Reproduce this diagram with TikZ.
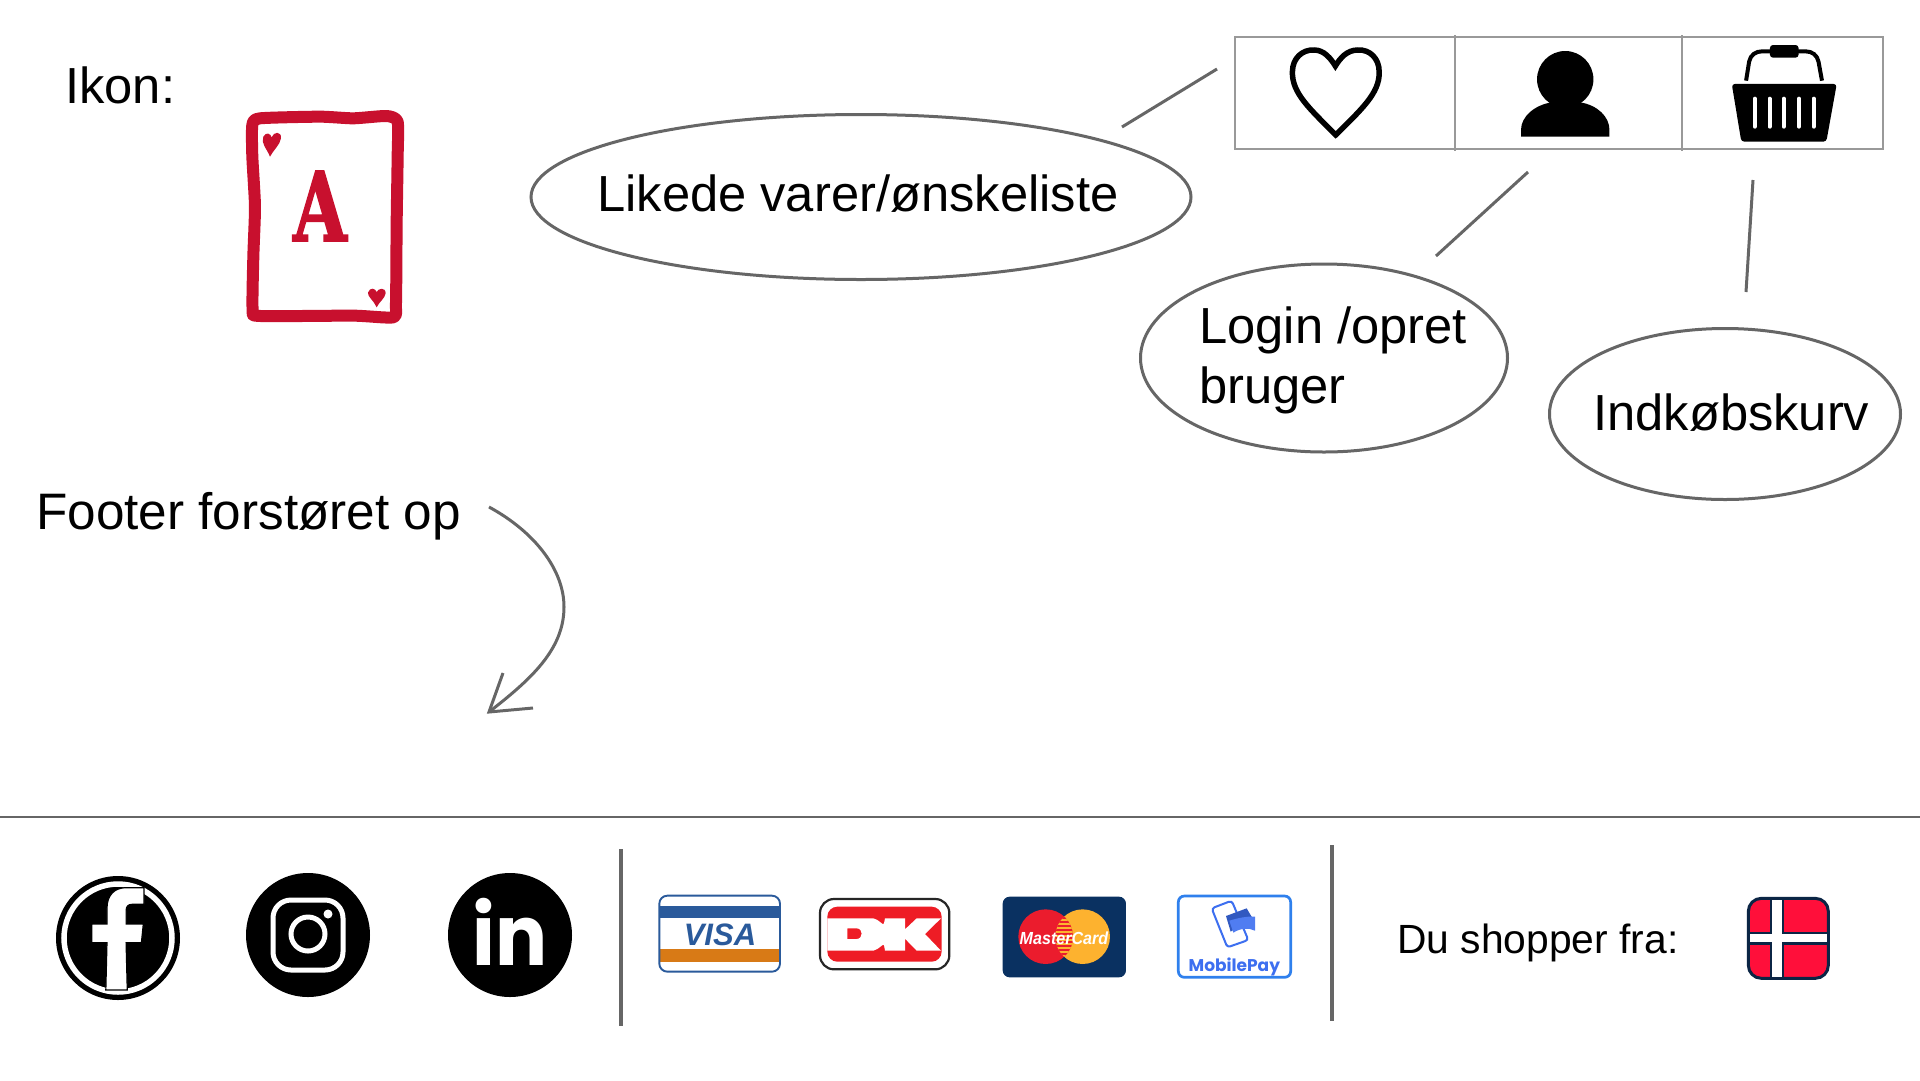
\documentclass[tikz,border=0pt]{standalone}
\usepackage{fontspec}
\setmainfont{Liberation Sans}
\newfontfamily\popp{Poppins}
\newfontfamily\slab{DejaVu Serif Bold}[FakeBold=2]
\usetikzlibrary{shapes.geometric}
\definecolor{linegray}{HTML}{666666}
\definecolor{cellgray}{HTML}{999999}
\definecolor{cardred}{HTML}{C8102E}
\definecolor{visablue}{HTML}{2A5A9B}
\definecolor{visaorange}{HTML}{D87A16}
\definecolor{dkred}{HTML}{EE1C25}
\definecolor{mcnavy}{HTML}{0A3161}
\definecolor{mcred}{HTML}{EB1C2D}
\definecolor{mcorange}{HTML}{FDB22F}
\definecolor{mpblue}{HTML}{2F80ED}
\definecolor{mpdeep}{HTML}{3D6FF0}
\definecolor{flagred}{HTML}{FF0F3A}
\definecolor{flagnavy}{HTML}{0B2545}
\tikzset{
  bubble/.style={ellipse,draw=linegray,line width=3pt,fill=none,inner sep=0pt},
  leader/.style={draw=linegray,line width=3pt},
  rulegray/.style={draw=linegray,line width=2.8pt},
  sepline/.style={draw=linegray,line width=3.8pt},
  big/.style={anchor=base west,inner sep=0pt,font=\fontsize{50.7}{60}\selectfont,text=black},
  mid/.style={anchor=base west,inner sep=0pt,font=\fontsize{40.8}{48}\selectfont,text=black},
  cell/.style={draw=cellgray,line width=1.6pt},
}
\begin{document}
\begin{tikzpicture}[x=1pt,y=-1pt]
\useasboundingbox (0,0) rectangle (1920,1080);
\fill[white] (0,0) rectangle (1920,1080);

% texts
\node[big] (ikon) at (65,103) {Ikon:};
\node[big,font=\fontsize{51.3}{60}\selectfont] (footertxt) at (36,529) {Footer forstøret op};

% card icon
\begin{scope}[shift={(220,90)},xscale=0.3333,yscale=0.3333]
  \draw[cardred,line width=12pt,line join=round] plot[smooth cycle,tension=.35] coordinates
   {(97,105) (120,85) (300,80) (400,85) (500,78) (533,95) (533,200) (530,400) (528,640) (520,682) (400,677) (120,678) (98,660) (100,500) (105,350) (97,200)};
  \fill[cardred] (150,200) .. controls (140,175) and (122,160) .. (130,140) .. controls (138,125) and (152,130) .. (155,142) .. controls (160,125) and (185,122) .. (183,145) .. controls (180,165) and (160,180) .. (150,200) -- cycle;
  \fill[cardred] (470,652) .. controls (462,632) and (442,620) .. (444,608) .. controls (450,590) and (466,595) .. (470,606) .. controls (474,595) and (497,590) .. (497,610) .. controls (495,625) and (478,635) .. (470,652) -- cycle;
\end{scope}
\node[inner sep=0pt,xscale=.72,text=cardred,font=\slab\fontsize{96}{96}\selectfont,anchor=base] (cardA) at (320,241) {A};

% bubbles
\node[bubble,minimum width=660pt,minimum height=165pt] (likeb) at (861,197) {};
\node[bubble,minimum width=367pt,minimum height=188pt] (loginb) at (1324,358) {};
\node[bubble,minimum width=351pt,minimum height=171pt] (basketb) at (1725,414) {};
\node[big] (liketxt) at (597,211) {Likede varer/ønskeliste};
\node[big] (logintxt1) at (1199,343) {Login /opret};
\node[big] (logintxt2) at (1199,403) {bruger};
\node[big] (baskettxt) at (1593,430) {Indkøbskurv};

% icon table
\draw[cell] (1235,37) rectangle (1883,149);
\draw[cell] (1455,35) -- (1455,151);
\draw[cell] (1682,35) -- (1682,151);

\begin{scope}[shift={(1220,20)},xscale=0.4337,yscale=0.3333]
  % heart
  \draw[black,line width=5.5pt,miter limit=6] (267,345) .. controls (210,270) and (165,220) .. (167,155) .. controls (167,115) and (190,88) .. (217,90) .. controls (240,90) and (255,115) .. (266,138) .. controls (277,115) and (292,90) .. (318,90) .. controls (345,88) and (367,115) .. (367,155) .. controls (369,220) and (324,270) .. cycle;
  % person
  \fill[black] (796,178) ellipse [x radius=65,y radius=85];
  \fill[black] (694,350) -- (694,330) .. controls (694,290) and (725,255) .. (765,247) -- (830,247) .. controls (870,255) and (898,290) .. (898,330) -- (898,350) -- cycle;
  % basket
  \draw[black,line width=4pt] (1213,182) -- (1220,125) .. controls (1223,105) and (1235,94) .. (1250,94) -- (1350,94) .. controls (1365,94) and (1377,105) .. (1380,125) -- (1388,182);
  \fill[black,rounded corners=3pt] (1268,75) rectangle (1334,113);
  \fill[black,rounded corners=3pt] (1180,192) -- (1422,192) -- (1398,365) -- (1202,365) -- cycle;
  \foreach \sx in {1233,1267,1300,1335,1369}
    \draw[white,line width=4pt,line cap=round] (\sx,236) -- (\sx,320);
\end{scope}

% connectors
\coordinate (l1a) at (1217,69); \coordinate (l1b) at (1122,127);
\coordinate (l2a) at (1528,172); \coordinate (l2b) at (1436,256);
\coordinate (l3a) at (1753,180); \coordinate (l3b) at (1746,292);
\draw[leader] (l1a) -- (l1b);
\draw[leader] (l2a) -- (l2b);
\draw[leader] (l3a) -- (l3b);

% curved arrow
\coordinate (cs) at (489,507); \coordinate (cm) at (564,607); \coordinate (ce) at (489,712);
\coordinate (h1) at (503,673); \coordinate (h2) at (533,708);
\draw[leader] (cs) .. controls (535,532) and (564,570) .. (cm) .. controls (564,650) and (530,680) .. (ce);
\draw[leader,line join=miter] (h1) -- (ce) -- (h2);

% rules
\coordinate (ru1) at (0,817); \coordinate (ru2) at (1920,817);
\draw[rulegray] (ru1) -- (ru2);
\coordinate (s1a) at (621,849); \coordinate (s1b) at (621,1026);
\coordinate (s2a) at (1332,845); \coordinate (s2b) at (1332,1021);
\draw[sepline] (s1a) -- (s1b);
\draw[sepline] (s2a) -- (s2b);

% facebook
\fill[black] (118,938) circle [radius=62];
\draw[white,line width=5.5pt] (118,938) circle [radius=54];
\begin{scope}[shift={(40,850)},xscale=0.3827,yscale=0.3333]
  \draw[black,line width=1.2pt,fill=white] (272,113) -- (272,163) -- (240,163) .. controls (230,163) and (225,170) .. (225,182) -- (225,222) -- (270,222) -- (265,278) -- (225,278) -- (228,420) -- (172,420) -- (175,278) -- (135,278) -- (135,222) -- (175,222) -- (175,175) .. controls (175,135) and (195,113) .. (225,113) -- cycle;
\end{scope}
% instagram
\fill[black] (308,935) circle [radius=62];
\draw[white,line width=5pt,rounded corners=18pt] (273,900) rectangle (343,970);
\draw[white,line width=5pt] (308,934) circle [radius=17];
\fill[white] (328,914) circle [radius=4.5];
% linkedin
\fill[black] (510,935) circle [radius=62];
\node[anchor=base,inner sep=0pt,xscale=.92,text=white,font=\popp\bfseries\fontsize{84}{84}\selectfont] (intxt) at (510,965) {in};

% visa
\begin{scope}[shift={(640,880)},scale=0.3333]
  \fill[visablue] (61,78) rectangle (417,115);
  \fill[visaorange] (61,208) rectangle (417,245);
  \draw[visablue,line width=1.9pt,rounded corners=8pt] (58,47) rectangle (420,275);
  \node[text=visablue,inner sep=0pt,anchor=base,font=\bfseries\itshape\fontsize{31}{31}\selectfont] (visatxt) at (240,195) {VISA};
\end{scope}
% dankort
\begin{scope}[shift={(810,890)},scale=0.3333]
  \draw[black!85,line width=2.2pt,rounded corners=14pt] (30,27) rectangle (418,238);
  \fill[dkred,rounded corners=10pt] (52,50) rectangle (395,215);
  \fill[white,even odd rule] (52,85) -- (190,85) .. controls (208,88) and (220,110) .. (222,100) -- (225,85) -- (285,85) -- (285,118) -- (320,85) -- (393,85) -- (345,132) -- (393,182) -- (320,182) -- (285,146) -- (285,182) -- (225,182) -- (222,165) .. controls (218,160) and (208,178) .. (190,182) -- (52,182) -- cycle
   (112,115) -- (112,147) -- (140,147) .. controls (160,147) and (160,115) .. (140,115) -- cycle;
\end{scope}
% mastercard
\begin{scope}[shift={(990,880)},scale=0.3333]
  \fill[mcnavy,rounded corners=7pt] (38,50) rectangle (408,292);
  \fill[mcorange] (278,170) circle [radius=82];
  \fill[mcred] (167,170) circle [radius=82];
  \begin{scope}
    \clip (278,170) circle [radius=82];
    \clip (167,170) circle [radius=82];
    \fill[mcorange] (190,80) rectangle (260,260);
    \foreach \yy in {98,110,...,250} \fill[mcred] (190,\yy) rectangle (260,\yy+6);
  \end{scope}
  \node[text=white,inner sep=0pt,anchor=base,xscale=.92,font=\bfseries\itshape\fontsize{17.5}{18}\selectfont] (mctxt) at (222,192) {MasterCard};
\end{scope}
% mobilepay
\begin{scope}[shift={(1170,890)},scale=0.3333]
  \draw[mpblue,line width=2.7pt,rounded corners=6pt] (25,18) rectangle (362,262);
  \draw[mpdeep,line width=2pt,rounded corners=3pt] (125,55) -- (185,32) -- (235,150) -- (172,172) -- cycle;
  \fill[mpdeep!80!black] (168,78) -- (230,55) -- (246,82) -- (182,125) -- cycle;
  \fill[mpdeep!90!white] (178,92) .. controls (200,85) and (230,78) .. (255,80) -- (255,122) .. controls (235,112) and (210,115) .. (190,128) -- cycle;
  \node[text=mpdeep,inner sep=0pt,anchor=base,font=\popp\bfseries\fontsize{17}{18}\selectfont] (mptxt) at (193,245) {MobilePay};
\end{scope}

\node[mid] (dutxt) at (1397,953) {Du shopper fra:};

% flag
\begin{scope}[shift={(1720,880)},scale=0.3333]
  \draw[flagnavy,line width=3pt,fill=flagred,rounded corners=13pt] (85,55) rectangle (325,295);
  \fill[flagnavy] (150,55) rectangle (192,295);
  \fill[flagnavy] (85,155) rectangle (325,194);
  \fill[white] (157,60) rectangle (185,290);
  \fill[white] (90,162) rectangle (320,187);
\end{scope}
\end{tikzpicture}
\end{document}
